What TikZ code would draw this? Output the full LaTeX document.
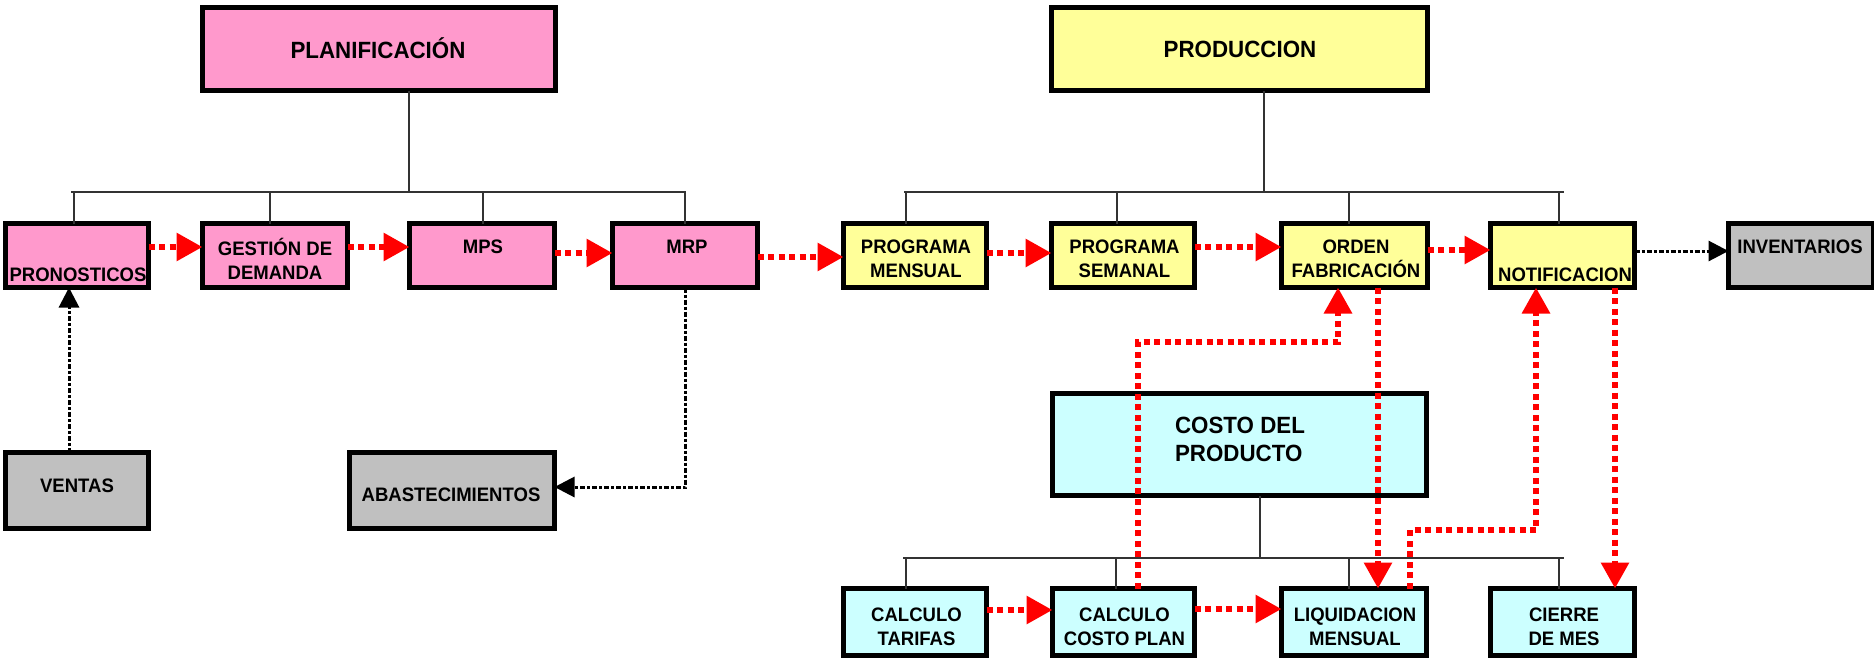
\documentclass[tikz,border=0pt]{standalone}
\usepackage{fontspec}
\setmainfont{Liberation Sans}
\newfontfamily\labelfont[FakeStretch=0.95]{Liberation Sans}
\usetikzlibrary{arrows.meta}

\definecolor{planpink}{HTML}{FF99CC}
\definecolor{prodyellow}{HTML}{FFFF99}
\definecolor{costcyan}{HTML}{CCFFFF}
\definecolor{extgray}{HTML}{C0C0C0}
\definecolor{flowred}{HTML}{FF0000}
\definecolor{treeline}{HTML}{333333}

\tikzset{
  x=0.5pt, y=-0.5pt,
  box/.style={draw=black, line width=2.5pt, rectangle, inner sep=0pt, outer sep=0pt},
  planbox/.style={box, fill=planpink},
  prodbox/.style={box, fill=prodyellow},
  costbox/.style={box, fill=costcyan},
  extbox/.style={box, fill=extgray},
  small/.style={font=\labelfont\bfseries\fontsize{9.75}{11.75}\selectfont, align=center, inner sep=0pt},
  big/.style={font=\labelfont\bfseries\fontsize{11.75}{14}\selectfont, align=center, inner sep=0pt},
  tree/.style={draw=treeline, line width=0.75pt},
  redflow/.style={draw=flowred, line width=3pt, dash pattern=on 3pt off 2.25pt,
    -{Triangle[length=13pt,width=13.5pt]}},
  blackflow/.style={draw=black, line width=1.5pt, dash pattern=on 2.5pt off 1pt on 1.5pt off 1pt,
    -{Triangle[length=10pt,width=10pt]}},
}

% box from its outer corners (x1,y1)-(x2,y2), in pixel units
\newcommand\drawbox[6]{%
  \node[#2, minimum width={(#5-#3-5)*0.5pt}, minimum height={(#6-#4-5)*0.5pt}]
    (#1) at ({(#3+#5)/2},{(#4+#6)/2}) {};}

\begin{document}
\begin{tikzpicture}
\useasboundingbox (0,0) rectangle (1874,659);

% ---------- tree junctions ----------
\coordinate (planbus) at (409,192);
\coordinate (prodbus) at (1264,192);
\coordinate (costbus) at (1260,558);

% ---------- boxes ----------
\drawbox{plan}{planbox}{200}{5}{558}{93}
\drawbox{prod}{prodbox}{1049}{5}{1430}{93}

\drawbox{pron}{planbox}{3}{221}{151}{290}
\drawbox{gest}{planbox}{200}{221}{350}{290}
\drawbox{mps}{planbox}{407}{221}{557}{290}
\drawbox{mrp}{planbox}{610}{221}{760}{290}

\drawbox{pmens}{prodbox}{841}{221}{989}{290}
\drawbox{psem}{prodbox}{1049}{221}{1197}{290}
\drawbox{orden}{prodbox}{1279}{221}{1430}{290}
\drawbox{notif}{prodbox}{1488}{221}{1637}{290}
\drawbox{inv}{extbox}{1726}{221}{1876}{290}

\drawbox{ventas}{extbox}{3}{450}{151}{531}
\drawbox{abast}{extbox}{347}{450}{557}{531}

\drawbox{cost}{costbox}{1050}{391}{1429}{498}

\drawbox{ctar}{costbox}{841}{586}{989}{658}
\drawbox{cplan}{costbox}{1050}{586}{1197}{658}
\drawbox{liq}{costbox}{1279}{586}{1429}{658}
\drawbox{cierre}{costbox}{1488}{586}{1637}{658}

% planning tree
\draw[tree] (plan.south -| planbus) -- (planbus);
\draw[tree] (71,192) -- (686,192);
\draw[tree] (74,192) -- (pron.north -| 74,0);
\draw[tree] (270,192) -- (gest.north -| 270,0);
\draw[tree] (483,192) -- (mps.north -| 483,0);
\draw[tree] (685,192) -- (mrp.north -| 685,0);

% production tree
\draw[tree] (prod.south -| prodbus) -- (prodbus);
\draw[tree] (904,192) -- (1564,192);
\draw[tree] (906,192) -- (pmens.north -| 906,0);
\draw[tree] (1117,192) -- (psem.north -| 1117,0);
\draw[tree] (1349,192) -- (orden.north -| 1349,0);
\draw[tree] (1559,192) -- (notif.north -| 1559,0);

% cost tree
\draw[tree] (cost.south -| costbus) -- (costbus);
\draw[tree] (903,558) -- (1564,558);
\draw[tree] (906,558) -- (ctar.north -| 906,0);
\draw[tree] (1116,558) -- (cplan.north -| 1116,0);
\draw[tree] (1349,558) -- (liq.north -| 1349,0);
\draw[tree] (1559,558) -- (cierre.north -| 1559,0);

% ---------- labels ----------
\node[big] (plan-t) at (378,48) {PLANIFICACIÓN};
\node[big] (prod-t) at (1240,49) {PRODUCCION};
\node[big, align=left] (cost-t) at (1240,439) {COSTO DEL\\PRODUCTO};

\node[small] (pron-t) at (78,274.5) {PRONOSTICOS};
\node[small] (gest-t) at (275,259) {GESTIÓN DE\\DEMANDA};
\node[small] (mps-t) at (483,246.5) {MPS};
\node[small] (mrp-t) at (687,246.5) {MRP};
\node[small] (pmens-t) at (916,259) {PROGRAMA\\MENSUAL};
\node[small] (psem-t) at (1124.5,259) {PROGRAMA\\SEMANAL};
\node[small] (orden-t) at (1356,259) {ORDEN\\FABRICACIÓN};
\node[small] (notif-t) at (1565,274.5) {NOTIFICACION};
\node[small] (inv-t) at (1800,246.5) {INVENTARIOS};
\node[small] (ventas-t) at (77,485.5) {VENTAS};
\node[small] (abast-t) at (451,494.5) {ABASTECIMIENTOS};
\node[small] (ctar-t) at (916.5,627) {CALCULO\\TARIFAS};
\node[small] (cplan-t) at (1124.5,627) {CALCULO\\COSTO PLAN};
\node[small] (liq-t) at (1355,627) {LIQUIDACION\\MENSUAL};
\node[small] (cierre-t) at (1564,627) {CIERRE\\DE MES};

% ---------- process flow ----------
\draw[redflow] (pron.east |- 0,247) -- (gest.west |- 0,247);
\draw[redflow] (gest.east |- 0,247) -- (mps.west |- 0,247);
\draw[redflow] (mps.east |- 0,253) -- (mrp.west |- 0,253);
\draw[redflow] (mrp.east |- 0,257) -- (pmens.west |- 0,257);
\draw[redflow] (pmens.east |- 0,253) -- (psem.west |- 0,253);
\draw[redflow] (psem.east |- 0,247) -- (orden.west |- 0,247);
\draw[redflow] (orden.east |- 0,250) -- (notif.west |- 0,250);
\draw[redflow] (ctar.east |- 0,610) -- (cplan.west |- 0,610);
\draw[redflow] (cplan.east |- 0,609) -- (liq.west |- 0,609);

\draw[redflow] (cplan.north -| 1138,0) -- (1138,342) -- (1338,342) -- (orden.south -| 1338,0);
\draw[redflow] (orden.south -| 1378,0) -- (liq.north -| 1378,0);
\draw[redflow] (liq.north -| 1410,0) -- (1410,530) -- (1536,530) -- (notif.south -| 1536,0);
\draw[redflow] (notif.south -| 1615,0) -- (cierre.north -| 1615,0);

% external links
\draw[blackflow] (ventas.north -| 69,0) -- (pron.south -| 69,0);
\draw[blackflow] (mrp.south -| 685,0) -- (685,487) -- (abast.east |- 0,487);
\draw[blackflow] (notif.east |- 0,251) -- (inv.west |- 0,251);
\end{tikzpicture}
\end{document}
